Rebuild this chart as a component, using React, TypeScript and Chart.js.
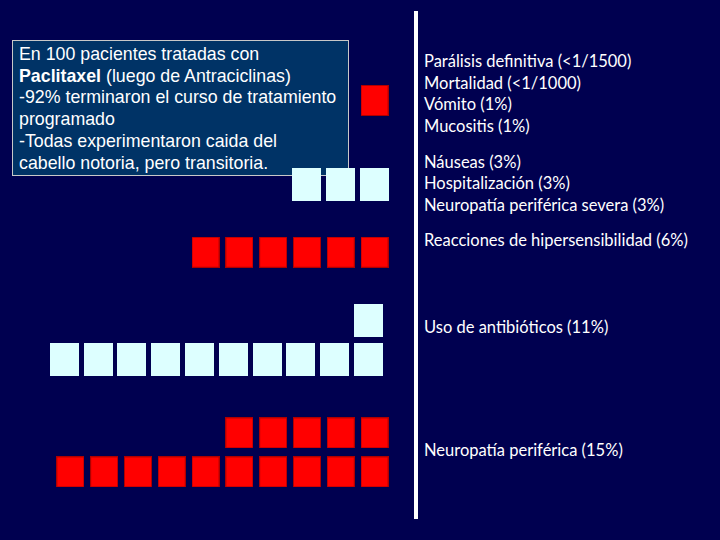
import React, { useEffect, useRef } from "react";
import { Chart, registerables } from "chart.js";

Chart.register(...registerables);

// ---- data ----
const groupCounts = [1, 3, 6, 11, 15];
const groupColors = ["#FF0000", "#DDFFFF", "#FF0000", "#DDFFFF", "#FF0000"];
const groupLabels = [
  ["Parálisis definitiva (<1/1500)", "Mortalidad (<1/1000)", "Vómito (1%)", "Mucositis (1%)"],
  ["Náuseas (3%)", "Hospitalización (3%)", "Neuropatía periférica severa (3%)"],
  ["Reacciones de hipersensibilidad (6%)"],
  ["Uso de antibióticos (11%)"],
  ["Neuropatía periférica (15%)"],
];
const perRow = 10;

// ---- layout (positions / sizes / styles) ----
const W = 720;
const H = 540;
const BG = "#000050";
const colPitch = 33.8;
const col0Center = 70.35;
const xMin = -col0Center / colPitch;
const xMax = xMin + W / colPitch;
const groupBottomY = [100.5, 184.4, 252.2, 359.3, 471.9];
const groupXShift = [0, 0, 0, -0.18, 0];
const rowGap = 39;
const labelTopCenter = [61, 161.7, 240, 326.7, 450];
const labelLineH = 21.6;

function makeSquare(color: string, w: number, h: number, edge?: string) {
  const c = document.createElement("canvas");
  c.width = w;
  c.height = h;
  const ctx = c.getContext("2d")!;
  ctx.fillStyle = color;
  ctx.fillRect(0, 0, w, h);
  if (edge) {
    ctx.strokeStyle = edge;
    ctx.lineWidth = 1;
    ctx.strokeRect(0.5, 0.5, w - 1, h - 1);
  }
  return c;
}

function groupPoints(count: number, gi: number) {
  const pts: { x: number; y: number }[] = [];
  for (let i = 0; i < count; i++) {
    const row = Math.floor(i / perRow);
    const col = perRow - 1 - (i % perRow);
    pts.push({ x: col + groupXShift[gi], y: groupBottomY[gi] - row * rowGap });
  }
  return pts;
}

export default function App() {
  const ref = useRef<HTMLCanvasElement>(null);
  useEffect(() => {
    if (!ref.current) return;
    const datasets = groupCounts.map((n, gi) => {
      const isRed = groupColors[gi] === "#FF0000";
      const img = isRed
        ? makeSquare(groupColors[gi], 28, 31, "#B00000")
        : makeSquare(groupColors[gi], 29, 33);
      return {
        label: groupLabels[gi][0],
        data: groupPoints(n, gi),
        pointStyle: img,
        pointRadius: 1,
        pointHoverRadius: 1,
        backgroundColor: groupColors[gi],
        borderColor: groupColors[gi],
      };
    });
    const chart = new Chart(ref.current, {
      type: "scatter",
      data: { datasets },
      options: {
        animation: false,
        responsive: false,
        devicePixelRatio: 1,
        layout: { padding: 0, autoPadding: false },
        plugins: { legend: { display: false }, tooltip: { enabled: false }, title: { display: false } },
        scales: {
          x: { type: "linear", min: xMin, max: xMax, display: false },
          y: { type: "linear", min: 0, max: H, reverse: true, display: false },
        },
      },
    });
    return () => chart.destroy();
  }, []);

  return (
    <div style={{ position: "fixed", left: 0, top: 0, width: W, height: H, background: BG, overflow: "hidden" }}>
      <div
        style={{
          position: "absolute",
          left: 12,
          top: 40,
          width: 337,
          height: 136,
          boxSizing: "border-box",
          border: "1px solid #C8C8C8",
          background: "#003366",
          color: "#FFFFFF",
          fontFamily: "'Liberation Sans', Arial, sans-serif",
          fontSize: 17.8,
          lineHeight: "21.7px",
          padding: "3px 0 0 6px",
          whiteSpace: "nowrap",
        }}
      >
        <div>En 100 pacientes tratadas con</div>
        <div>
          <b>Paclitaxel</b> (luego de Antraciclinas)
        </div>
        <div>-92% terminaron el curso de tratamiento</div>
        <div>programado</div>
        <div>-Todas experimentaron caida del</div>
        <div>cabello notoria, pero transitoria.</div>
      </div>
      <div style={{ position: "absolute", left: 414, top: 11, width: 4, height: 508, background: "#FFFFFF" }} />
      {groupLabels.map((lines, gi) =>
        lines.map((t, li) => (
          <div
            key={gi + "-" + li}
            style={{
              position: "absolute",
              left: 424,
              top: labelTopCenter[gi] + li * labelLineH - 10,
              height: 20,
              lineHeight: "20px",
              color: "#FFFFFF",
              fontFamily: "Lato, 'Open Sans', sans-serif",
              fontSize: 16.5,
              whiteSpace: "nowrap",
            }}
          >
            {t}
          </div>
        ))
      )}
      <canvas ref={ref} width={W} height={H} style={{ position: "absolute", left: 0, top: 0, width: W, height: H }} />
    </div>
  );
}
